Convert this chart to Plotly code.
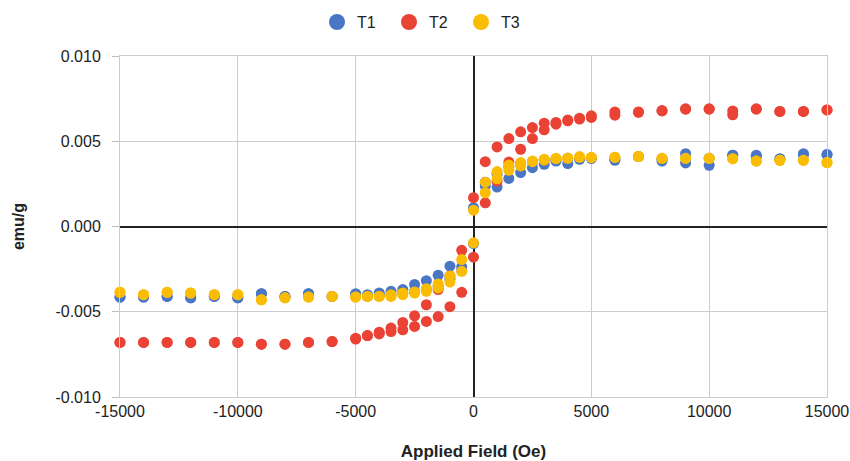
import plotly.graph_objects as go

# Applied field grid (Oe)
FIELD = [-15000, -14000, -13000, -12000, -11000, -10000, -9000, -8000, -7000, -6000,
         -5000, -4500, -4000, -3500, -3000, -2500, -2000, -1500, -1000, -500,
         0, 500, 1000, 1500, 2000, 2500, 3000, 3500, 4000, 4500,
         5000, 6000, 7000, 8000, 9000, 10000, 11000, 12000, 13000, 14000, 15000]

# T1 (blue) – descending and ascending branches (emu/g)
T1_DESC = [-0.00414, -0.00414, -0.0041, -0.00418, -0.0041, -0.00418, -0.00394, -0.0041, -0.00394, -0.0041,
           -0.00394, -0.0040, -0.0039, -0.0038, -0.0037, -0.0034, -0.00318, -0.00286, -0.00233, -0.00237,
           0.0011, 0.0026, 0.0031, 0.0035, 0.0037, 0.0038, 0.0039, 0.0039, 0.0040, 0.0040,
           0.0040, 0.00395, 0.0041, 0.00395, 0.00427, 0.0040, 0.00418, 0.00418, 0.00398, 0.00427, 0.00422]
T1_ASC = [-0.00414, -0.00414, -0.0041, -0.00418, -0.0041, -0.00418, -0.00394, -0.0041, -0.00394, -0.0041,
          -0.0040, -0.0041, -0.0040, -0.0040, -0.0039, -0.0038, -0.0037, -0.0035, -0.0031, -0.0026,
          -0.0010, 0.00237, 0.00231, 0.00282, 0.00316, 0.00345, 0.00365, 0.00384, 0.00369, 0.00394,
          0.0040, 0.00388, 0.0041, 0.00384, 0.00373, 0.00359, 0.00418, 0.0041, 0.00395, 0.0042, 0.00422]

# T2 (red)
T2_DESC = [-0.0068, -0.0068, -0.0068, -0.0068, -0.0068, -0.0068, -0.0069, -0.0069, -0.0068, -0.00675,
           -0.00655, -0.0064, -0.0062, -0.00596, -0.00563, -0.00524, -0.00459, -0.0037, -0.0029, -0.0014,
           0.00169, 0.0038, 0.00467, 0.00516, 0.00555, 0.0058, 0.00606, 0.0061, 0.00624, 0.00635,
           0.00649, 0.00672, 0.00672, 0.00678, 0.00688, 0.00688, 0.00678, 0.00688, 0.00675, 0.00675, 0.00684]
T2_ASC = [-0.0068, -0.0068, -0.0068, -0.0068, -0.0068, -0.0068, -0.0069, -0.0069, -0.0068, -0.00675,
          -0.0066, -0.0064, -0.0063, -0.00616, -0.00606, -0.00586, -0.00557, -0.00528, -0.0047, -0.00386,
          -0.0018, 0.00139, 0.00266, 0.00378, 0.00453, 0.00516, 0.00567, 0.0060, 0.0062, 0.0063,
          0.0064, 0.00653, 0.0067, 0.0068, 0.0069, 0.0069, 0.00655, 0.0069, 0.00675, 0.00675, 0.00684]

# T3 (yellow)
T3_DESC = [-0.00386, -0.0040, -0.00386, -0.0039, -0.0040, -0.0040, -0.0043, -0.00418, -0.00414, -0.0041,
           -0.00414, -0.0041, -0.0041, -0.0040, -0.0039, -0.00384, -0.00365, -0.00337, -0.0029, -0.00194,
           0.00096, 0.0026, 0.00322, 0.0036, 0.00375, 0.00384, 0.00394, 0.0040, 0.00402, 0.0041,
           0.00406, 0.00406, 0.0041, 0.0040, 0.0040, 0.0040, 0.00398, 0.00384, 0.00388, 0.00388, 0.00375]
T3_ASC = [-0.00386, -0.0040, -0.00386, -0.0039, -0.0040, -0.0040, -0.0043, -0.00418, -0.00414, -0.0041,
          -0.00414, -0.0041, -0.0041, -0.0041, -0.0040, -0.0039, -0.0038, -0.0036, -0.00326, -0.00263,
          -0.00096, 0.00198, 0.0028, 0.0033, 0.00355, 0.0038, 0.0039, 0.00398, 0.0040, 0.00406,
          0.00404, 0.00406, 0.0041, 0.0040, 0.0040, 0.0040, 0.00398, 0.00384, 0.00388, 0.00388, 0.00375]

SERIES = ["T1", "T2", "T3"]
X_TICKS = [-15000, -10000, -5000, 0, 5000, 10000, 15000]
X_TICK_LABELS = ["-15000", "-10000", "-5000", "0", "5000", "10000", "15000"]
Y_TICKS = [-0.010, -0.005, 0.0, 0.005, 0.010]
Y_TICK_LABELS = ["-0.010", "-0.005", "0.000", "0.005", "0.010"]

COLORS = {"T1": "#4a76c6", "T2": "#ea4335", "T3": "#fbbc04"}
FONT = "Liberation Sans, Arial, sans-serif"

data = {"T1": (T1_DESC, T1_ASC), "T2": (T2_DESC, T2_ASC), "T3": (T3_DESC, T3_ASC)}

fig = go.Figure()
for name in SERIES:
    desc, asc = data[name]
    fig.add_trace(go.Scatter(
        x=FIELD + FIELD, y=desc + asc, mode="markers", name=name,
        marker=dict(size=11, color=COLORS[name]), showlegend=False,
        cliponaxis=False,
    ))
for name in SERIES:
    fig.add_trace(go.Scatter(
        x=[None], y=[None], mode="markers", name=name,
        marker=dict(size=16, color=COLORS[name]), showlegend=True,
    ))

fig.update_layout(
    width=850, height=461,
    margin=dict(l=120, r=23, t=56, b=64, autoexpand=False),
    paper_bgcolor="white", plot_bgcolor="white",
    font=dict(family=FONT, size=16, color="#222222"),
    showlegend=True,
    legend=dict(orientation="h", xref="container", yref="container",
                x=0.5, xanchor="center", y=0.952, yanchor="middle",
                entrywidth=27, entrywidthmode="pixels",
                font=dict(size=16, color="#222222"), itemclick=False),
    xaxis=dict(
        range=[-15000, 15000], tickvals=X_TICKS, ticktext=X_TICK_LABELS,
        showgrid=True, gridcolor="#cccccc", gridwidth=1,
        zeroline=True, zerolinecolor="#222222", zerolinewidth=1.5,
        showline=True, linecolor="#cccccc", mirror=True, automargin=False,
        ticks="", tickfont=dict(size=16, color="#222222"), ticklabeloverflow="allow",
        title=dict(text="<b>Applied Field (Oe)</b>", font=dict(size=17, color="#222222"), standoff=33),
    ),
    yaxis=dict(
        range=[-0.010, 0.010], tickvals=Y_TICKS, ticktext=Y_TICK_LABELS,
        showgrid=True, gridcolor="#cccccc", gridwidth=1,
        zeroline=True, zerolinecolor="#222222", zerolinewidth=1.5,
        showline=True, linecolor="#cccccc", mirror=True, automargin=False,
        ticks="outside", ticklen=7, tickcolor="#bbbbbb", ticklabelstandoff=8,
        tickfont=dict(size=16, color="#222222"),
        title=dict(text="<b>emu/g</b>", font=dict(size=16, color="#222222"), standoff=26),
    ),
)

# remove the default 8px page margin so the figure fills the 850x461 window exactly
fig.write_html("out.html", config={"displayModeBar": False},
               post_script="document.body.style.margin='0';")
